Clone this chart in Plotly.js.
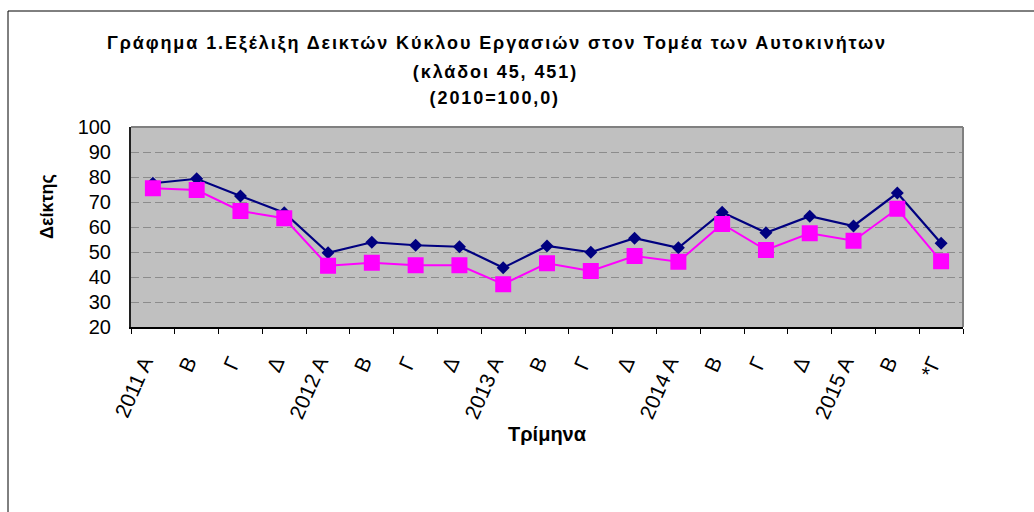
<!DOCTYPE html>
<html>
<head>
<meta charset="utf-8">
<script src="https://cdn.plot.ly/plotly-3.0.1.min.js"></script>
<style>
html,body{margin:0;padding:0;background:#fff;}
#chart{width:1034px;height:512px;}
#chart text.gtitle,
#chart g.annotation[data-index="0"] text,
#chart g.annotation[data-index="1"] text { letter-spacing: 1.9px; }
</style>
</head>
<body>
<div id="chart"></div>
<script>
// Quarters (unique ids) and displayed tick labels
const periods = ["2011 Α","2011 Β","2011 Γ","2011 Δ","2012 Α","2012 Β","2012 Γ","2012 Δ","2013 Α","2013 Β","2013 Γ","2013 Δ","2014 Α","2014 Β","2014 Γ","2014 Δ","2015 Α","2015 Β","2015 *Γ"];
const tickLabels = ["2011 Α","Β","Γ","Δ","2012 Α","Β","Γ","Δ","2013 Α","Β","Γ","Δ","2014 Α","Β","Γ","Δ","2015 Α","Β","*Γ"];
// Series values
const seriesNavy = [77.5, 79.3, 72.4, 65.7, 49.7, 53.9, 52.7, 52.1, 43.7, 52.4, 49.9, 55.5, 51.7, 65.9, 57.7, 64.3, 60.4, 73.6, 53.5];
const seriesMagenta = [75.5, 74.8, 66.4, 63.5, 44.5, 45.7, 44.7, 44.7, 37.1, 45.5, 42.4, 48.4, 46.1, 61.2, 50.8, 57.5, 54.5, 67.3, 46.3];
const yTicks = [20, 30, 40, 50, 60, 70, 80, 90, 100];

const FONT = "Liberation Sans, Arial, sans-serif";

const traces = [
  {
    x: periods, y: seriesNavy, type: "scatter", mode: "lines+markers",
    name: "Δείκτης 1",
    line: {color: "#000080", width: 2.2},
    marker: {symbol: "diamond", size: 10, color: "#000080"}
  },
  {
    x: periods, y: seriesMagenta, type: "scatter", mode: "lines+markers",
    name: "Δείκτης 2",
    line: {color: "#FF00FF", width: 2},
    marker: {symbol: "square", size: 16, color: "#FF00FF"}
  }
];

const layout = {
  width: 1034, height: 512,
  margin: {l: 131, r: 71, t: 127, b: 185, pad: 0},
  paper_bgcolor: "#ffffff",
  plot_bgcolor: "#C0C0C0",
  showlegend: false,
  font: {family: FONT, color: "#000"},
  title: {
    text: "<b>Γράφημα 1.Εξέλιξη Δεικτών Κύκλου Εργασιών στον Τομέα των Αυτοκινήτων</b>",
    font: {family: FONT, size: 18, color: "#000"},
    xref: "container", x: 497/1034, xanchor: "center",
    yref: "container", y: 1 - 43/512, yanchor: "middle"
  },
  xaxis: {
    type: "category",
    range: [-0.5, 18.5],
    tickvals: periods, ticktext: tickLabels,
    tickangle: -66,
    tickfont: {family: FONT, size: 21, color: "#000"},
    ticks: "outside", ticklen: 5, tickcolor: "#000", tickwidth: 1,
    tickson: "boundaries",
    ticklabelstandoff: 13,
    ticklabelshift: -9,
    showgrid: false, zeroline: false,
    showline: true, linecolor: "#000", linewidth: 2,
    fixedrange: true
  },
  yaxis: {
    range: [20, 100],
    tickvals: yTicks,
    tickfont: {family: FONT, size: 20, color: "#000"},
    ticks: "", ticklabelstandoff: 14,
    showgrid: true, gridcolor: "#8c8c8c", gridwidth: 1, griddash: "8px,4px",
    zeroline: false,
    showline: true, linecolor: "#202020", linewidth: 2,
    fixedrange: true
  },
  shapes: [
    // plot area border (top and right, gray)
    {type: "line", xref: "paper", yref: "paper", x0: 0, x1: 1, y0: 1, y1: 1, line: {color: "#808080", width: 2}},
    {type: "line", xref: "paper", yref: "paper", x0: 1, x1: 1, y0: 0, y1: 1, line: {color: "#808080", width: 2}},
    // outer chart border (left and top)
    {type: "line", xref: "paper", yref: "paper", x0: (8-131)/832, x1: (8-131)/832, y0: (327-11)/200, y1: (327-530)/200, line: {color: "#000", width: 1}},
    {type: "line", xref: "paper", yref: "paper", x0: (8-131)/832, x1: (1050-131)/832, y0: (327-11)/200, y1: (327-11)/200, line: {color: "#000", width: 1}}
  ],
  annotations: [
    {text: "<b>(κλάδοι 45, 451)</b>", xref: "paper", yref: "paper", x: (495-131)/832, y: (327-72)/200,
     xanchor: "center", yanchor: "middle", showarrow: false, font: {family: FONT, size: 18, color: "#000"}},
    {text: "<b>(2010=100,0)</b>", xref: "paper", yref: "paper", x: (495-131)/832, y: (327-98)/200,
     xanchor: "center", yanchor: "middle", showarrow: false, font: {family: FONT, size: 18, color: "#000"}},
    {text: "<b>Δείκτης</b>", xref: "paper", yref: "paper", x: (47-131)/832, y: (327-207)/200,
     xanchor: "center", yanchor: "middle", textangle: -90, showarrow: false, font: {family: FONT, size: 18, color: "#000"}},
    {text: "<b>Τρίμηνα</b>", xref: "paper", yref: "paper", x: 0.5, y: (327-434)/200,
     xanchor: "center", yanchor: "middle", showarrow: false, font: {family: FONT, size: 20, color: "#000"}}
  ]
};

Plotly.newPlot("chart", traces, layout, {displayModeBar: false, staticPlot: true});
</script>
</body>
</html>
